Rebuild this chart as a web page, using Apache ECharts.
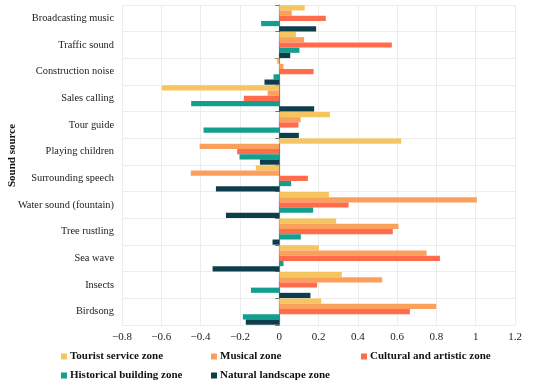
<!DOCTYPE html>
<html><head><meta charset="utf-8">
<script src="https://cdn.jsdelivr.net/npm/echarts@6/dist/echarts.min.js"></script>
<style>html,body{margin:0;padding:0;background:#fff}#c{width:550px;height:385px}</style>
</head><body><div id="c"></div>
<script>
const categories = ["Broadcasting music","Traffic sound","Construction noise","Sales calling","Tour guide","Playing children","Surrounding speech","Water sound (fountain)","Tree rustling","Sea wave","Insects","Birdsong"];
const seriesNames = ["Tourist service zone","Musical zone","Cultural and artistic zone","Historical building zone","Natural landscape zone"];
const touristService = [0.13,0.085,-0.012,-0.597,0.258,0.621,-0.119,0.253,0.29,0.202,0.319,0.214];
const musical = [0.064,0.127,0.022,-0.059,0.109,-0.405,-0.45,1.006,0.607,0.75,0.524,0.799];
const culturalArtistic = [0.237,0.573,0.175,-0.18,0.098,-0.214,0.146,0.353,0.578,0.818,0.193,0.665];
const historicalBuilding = [-0.092,0.103,-0.029,-0.448,-0.385,-0.202,0.061,0.173,0.11,0.022,-0.144,-0.185];
const naturalLandscape = [0.188,0.056,-0.075,0.178,0.10,-0.098,-0.322,-0.271,-0.034,-0.339,0.159,-0.17];
const xTicks = [-0.8,-0.6,-0.4,-0.2,0,0.2,0.4,0.6,0.8,1,1.2];

const colors = ["#F6C560","#FBA05A","#FF6B4B","#149E8E","#0E3E4C"];
const values = [touristService, musical, culturalArtistic, historicalBuilding, naturalLandscape];
const font = "'Liberation Serif','Times New Roman',serif";

const legendPos = [[61,351],[211,351],[361,351],[61,370],[211,370]];
const legends = seriesNames.map((n,i)=>({
  data:[n], left:legendPos[i][0], top:legendPos[i][1], itemWidth:6, itemHeight:6, itemGap:3,
  icon:'rect', padding:0,
  textStyle:{fontFamily:font,fontWeight:'bold',fontSize:11,color:'#111',padding:[0,0,0,-2]}
}));

const chart = echarts.init(document.getElementById('c'));
chart.setOption({
  animation:false,
  color:colors,
  legend:legends,
  grid:{left:122,right:35,top:5,bottom:60,containLabel:false,outerBoundsMode:'none'},
  xAxis:{type:'value',min:-0.8,max:1.2,interval:0.2,
    axisLine:{show:false},axisTick:{show:false},
    splitLine:{show:true,lineStyle:{color:'#ececec',width:1}},
    axisLabel:{fontFamily:font,fontSize:11,color:'#222',margin:7,
      formatter:v=>{const r=Math.round(v*10)/10; const t=xTicks.find(x=>Math.abs(x-r)<1e-9); return (t<0?'\u2212'+Math.abs(t):String(t));}}
  },
  yAxis:{type:'category',data:categories,inverse:true,
    name:'Sound source',nameLocation:'middle',nameGap:104,nameRotate:90,nameMoveOverlap:false,
    nameTextStyle:{fontFamily:font,fontWeight:'bold',fontSize:11,color:'#111',padding:[0,0,0,19]},
    axisLine:{show:true,onZero:true,lineStyle:{color:'#777',width:1.2}},
    axisTick:{show:true,length:4,lineStyle:{color:'#777'}},
    splitLine:{show:true,lineStyle:{color:'#ececec',width:1}},
    axisLabel:{fontFamily:font,fontSize:10.4,color:'#222',margin:8}
  },
  series:values.map((d,i)=>({
    name:seriesNames[i],type:'bar',data:d,barGap:'0%',barCategoryGap:'2%',
    itemStyle:{color:colors[i]}
  }))
});
</script></body></html>
